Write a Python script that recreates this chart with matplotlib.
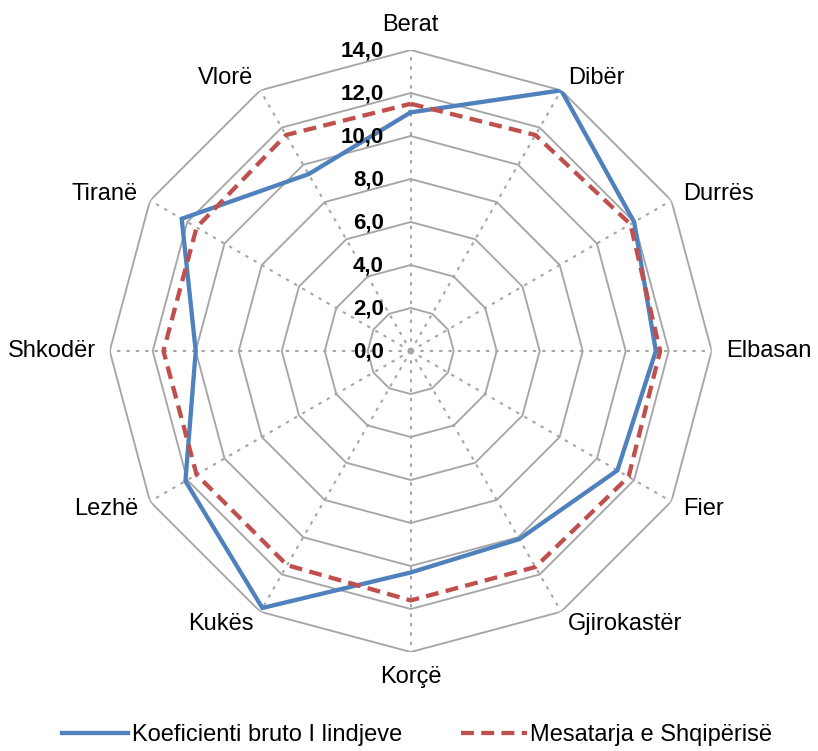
import numpy as np
import matplotlib
matplotlib.use('Agg')
import matplotlib.pyplot as plt
from matplotlib.transforms import ScaledTranslation

plt.rcParams['font.family'] = ['Liberation Sans', 'DejaVu Sans']

# districts, clockwise from the top
districts = ['Berat', 'Dibër', 'Durrës', 'Elbasan', 'Fier', 'Gjirokastër',
             'Korçë', 'Kukës', 'Lezhë', 'Shkodër', 'Tiranë', 'Vlorë']
birth_rate = [11.1, 14.0, 12.0, 11.4, 11.1, 10.1, 10.3, 13.8, 12.1, 10.0, 12.3, 9.5]
albania_avg = [11.5, 11.6, 11.8, 11.6, 11.7, 11.6, 11.6, 11.5, 11.5, 11.5, 11.5, 11.6]
r_ticks = [0, 2, 4, 6, 8, 10, 12, 14]
r_labels = ['0,0', '2,0', '4,0', '6,0', '8,0', '10,0', '12,0', '14,0']

series_names = ['Koeficienti bruto I lindjeve', 'Mesatarja e Shqipërisë']

BLUE = '#4F81BD'
RED = '#C0504D'
GRID = '#A6A6A6'

n = len(districts)
angles = np.arange(n) * 2 * np.pi / n
closed = np.append(angles, angles[0])

fig = plt.figure(figsize=(8.18, 7.51), dpi=100)
ax = fig.add_axes([0.1341, 0.1318, 0.736, 0.8016], projection='polar')
ax.set_theta_zero_location('N')
ax.set_theta_direction(-1)
ax.set_ylim(0, 14)
ax.grid(False)
ax.spines['polar'].set_visible(False)
ax.set_xticks([])
ax.set_yticks([])

# polygon rings
for r in r_ticks[1:]:
    ax.plot(closed, [r] * (n + 1), color=GRID, lw=1.35, zorder=1)
# dotted spokes
for a in angles:
    ax.plot([a, a], [0, 14], color=GRID, lw=1.5, ls=(0, (1.6, 2.9)), zorder=1)

l1, = ax.plot(closed, birth_rate + birth_rate[:1], color=BLUE, lw=3.1,
              zorder=3, solid_joinstyle='miter')
l2, = ax.plot(closed, albania_avg + albania_avg[:1], color=RED, lw=3.1,
              ls=(0, (3.0, 1.7)), zorder=4)

# category labels
for a, name in zip(angles, districts):
    s, c = np.sin(a), np.cos(a)
    if abs(s) < 1e-6:
        ha = 'center'
        va = 'bottom' if c > 0 else 'top'
    else:
        ha = 'left' if s > 0 else 'right'
        va = 'center'
    ax.text(a, 14.65, name, ha=ha, va=va, fontsize=17)

# value labels on the vertical axis
off = ax.transData + ScaledTranslation(-27 / 100, -1 / 100, fig.dpi_scale_trans)
for r, lab in zip(r_ticks, r_labels):
    ax.text(0, r, lab, transform=off, ha='right', va='center',
            fontsize=16, fontweight='bold')

fig.legend([l1, l2], series_names, loc='center', ncol=2,
           bbox_to_anchor=(0.51, 0.021), frameon=False, fontsize=17,
           handlelength=2.8, handletextpad=0.15, columnspacing=2.5)

fig.savefig('out.png', dpi=100)
